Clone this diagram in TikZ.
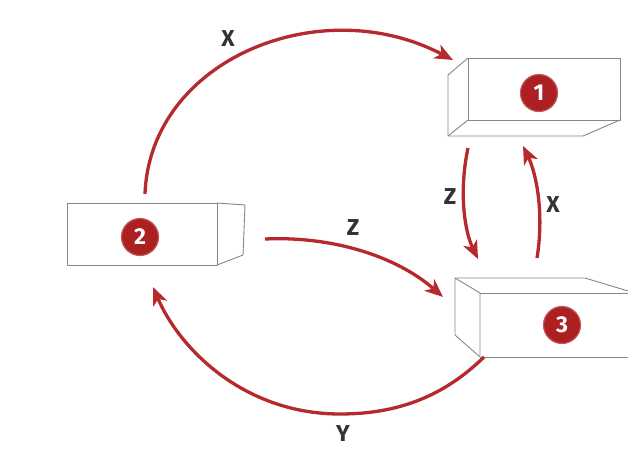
\documentclass[tikz,border=0pt]{standalone}
\usepackage{fontspec}
\setmainfont{Fira Sans}
\usetikzlibrary{arrows.meta}
\definecolor{arr}{RGB}{182,42,46}
\definecolor{badge}{RGB}{172,32,34}
\definecolor{boxline}{RGB}{135,135,135}
\definecolor{lbl}{RGB}{50,50,55}
\tikzset{
  flow/.style={draw=arr, line width=3.3pt, -{Stealth[length=18pt,width=15pt,inset=5pt]}},
  boxedge/.style={draw=boxline, line width=0.9pt, line join=round},
  badgenode/.style={circle, fill=badge, draw=badge!75!white, line width=1.2pt, minimum size=37pt, inner sep=0pt, text=white, font=\fontsize{23}{23}\selectfont\bfseries},
  lab/.style={text=lbl, font=\fontsize{23}{23}\selectfont\bfseries, inner sep=0pt}
}
\begin{document}
\begin{tikzpicture}[x=1pt,y=-1pt]
\useasboundingbox (0,0) rectangle (628,466);
\fill[white] (0,0) rectangle (628,466);

% Box 1
\draw[boxedge] (468,58) rectangle (620,120);
\draw[boxedge] (468,58) -- (448,75) -- (448,136) -- (583,136) -- (620,120);
\draw[boxedge] (448,136) -- (468,120);
% Box 2
\draw[boxedge] (67,203) rectangle (217,265);
\draw[boxedge] (217,203) -- (245,205) -- (243,255) -- (217,265);
% Box 3
\draw[boxedge] (480,293) -- (628,293);
\draw[boxedge] (480,357) -- (628,357);
\draw[boxedge] (480,293) -- (480,357) -- (455,335) -- (455,278) -- (480,293);
\draw[boxedge] (455,278) -- (585,278) -- (628,291);

% Badges
\node[badgenode] (n1) at (539,93) {1};
\node[badgenode] (n2) at (140,237) {2};
\node[badgenode] (n3) at (562,325) {3};

% connector end points
\coordinate (xs) at (145,194);
\coordinate (xe) at (453,60);
\coordinate (zs) at (265,239);
\coordinate (ze) at (443,297);
\coordinate (vzs) at (468,148);
\coordinate (vze) at (478,259);
\coordinate (vxs) at (537,258);
\coordinate (vxe) at (523,146);
\coordinate (ys) at (484,357);
\coordinate (ym) at (340,414);
\coordinate (ye) at (153,287);

% Arrows
\draw[flow] (xs) .. controls (150,60) and (320,-10) .. (xe);
\draw[flow] (zs) .. controls (330,236) and (395,255) .. (ze);
\draw[flow] (vzs) .. controls (459,190) and (464,230) .. (vze);
\draw[flow] (vxs) .. controls (544,215) and (537,175) .. (vxe);
\draw[flow] (ys) .. controls (445,395) and (400,414) .. (ym) .. controls (245,414) and (180,350) .. (ye);

% Labels
\node[lab] (lx1) at (228,39) {X};
\node[lab] (lz1) at (353,228) {Z};
\node[lab] (lz2) at (450,197) {Z};
\node[lab] (lx2) at (553,205) {X};
\node[lab] (ly) at (343,434) {Y};
\end{tikzpicture}
\end{document}
